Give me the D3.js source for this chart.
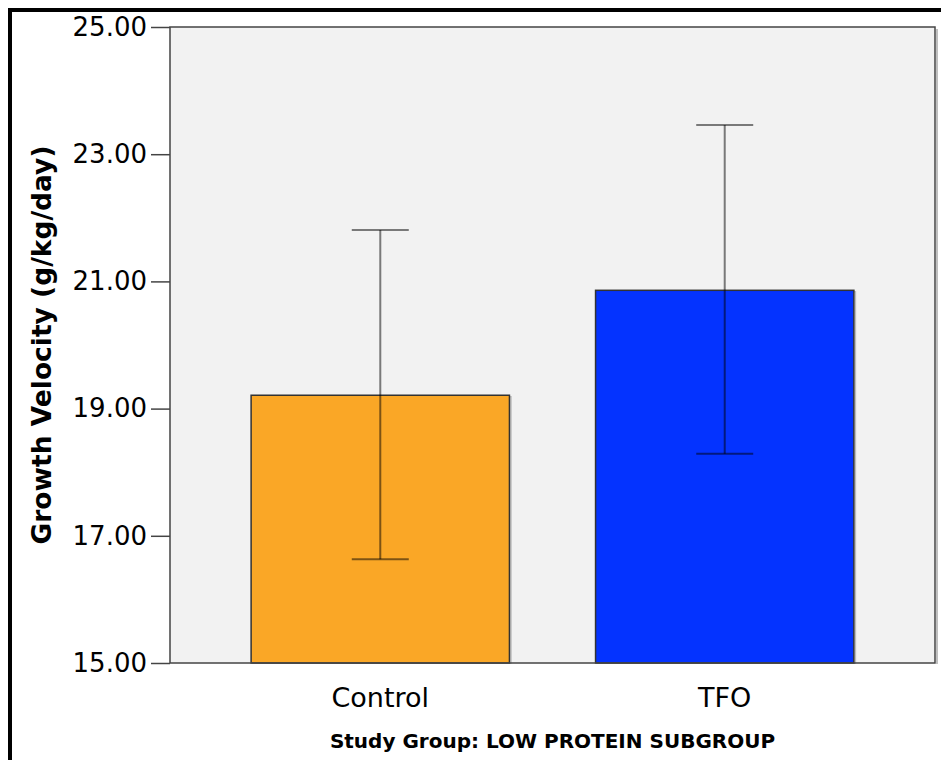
<!DOCTYPE html>
<html>
<head>
<meta charset="utf-8">
<script src="https://cdn.jsdelivr.net/npm/d3@7"></script>
<style>
  html, body { margin: 0; padding: 0; background: #fff; }
  svg { display: block; }
</style>
</head>
<body>
<script>
// Growth velocity by study group (low protein subgroup), mean with error bars
const categories = ["Control", "TFO"];
const means = [19.21, 20.86];
const upper = [21.81, 23.46];
const lower = [16.63, 18.29];
const barColors = ["#FAA726", "#0433FF"];
const yTicks = [15, 17, 19, 21, 23, 25];

const W = 941, H = 760;
const plot = { left: 170, right: 935, top: 27, bottom: 663 };

const svg = d3.select("body").append("svg")
  .attr("width", W).attr("height", H);

// outer frame (top and left edges)
svg.append("line").attr("x1", 8).attr("x2", W).attr("y1", 10).attr("y2", 10)
  .attr("stroke", "#000").attr("stroke-width", 4);
svg.append("line").attr("x1", 10).attr("x2", 10).attr("y1", 8).attr("y2", H)
  .attr("stroke", "#000").attr("stroke-width", 4);

const x = d3.scaleBand()
  .domain(categories)
  .range([plot.left, plot.right])
  .paddingInner(0.25)
  .paddingOuter(0.2355);

const y = d3.scaleLinear()
  .domain([15, 25])
  .range([plot.bottom, plot.top]);

// plot background
svg.append("rect")
  .attr("x", plot.left).attr("y", plot.top)
  .attr("width", plot.right - plot.left).attr("height", plot.bottom - plot.top)
  .attr("fill", "#F2F2F2");

// bars
const bars = svg.append("g");
bars.selectAll("rect.shadow")
  .data(categories)
  .join("rect")
  .attr("class", "shadow")
  .attr("x", d => x(d) + 1.5)
  .attr("y", (d, i) => y(means[i]) + 1.5)
  .attr("width", x.bandwidth())
  .attr("height", (d, i) => y(15) - y(means[i]) - 1.5)
  .attr("fill", "none")
  .attr("stroke", "#bbb")
  .attr("stroke-width", 1.5);
bars.selectAll("rect.bar")
  .data(categories)
  .join("rect")
  .attr("class", "bar")
  .attr("x", d => x(d))
  .attr("y", (d, i) => y(means[i]))
  .attr("width", x.bandwidth())
  .attr("height", (d, i) => y(15) - y(means[i]))
  .attr("fill", (d, i) => barColors[i])
  .attr("stroke", "#333")
  .attr("stroke-width", 1.5);

// error bars
const capW = 57;
const eb = svg.append("g")
  .attr("stroke", "#000")
  .attr("stroke-opacity", 0.5)
  .attr("stroke-width", 2);
categories.forEach((c, i) => {
  const cx = x(c) + x.bandwidth() / 2;
  eb.append("line").attr("x1", cx).attr("x2", cx)
    .attr("y1", y(upper[i])).attr("y2", y(lower[i]));
  eb.append("line").attr("x1", cx - capW / 2).attr("x2", cx + capW / 2)
    .attr("y1", y(upper[i])).attr("y2", y(upper[i]));
  eb.append("line").attr("x1", cx - capW / 2).attr("x2", cx + capW / 2)
    .attr("y1", y(lower[i])).attr("y2", y(lower[i]));
});

// plot border with soft shadow on the right
svg.append("line")
  .attr("x1", plot.right + 2).attr("x2", plot.right + 2)
  .attr("y1", plot.top + 2).attr("y2", plot.bottom + 1)
  .attr("stroke", "#aaa").attr("stroke-width", 1.5);
svg.append("rect")
  .attr("x", plot.left).attr("y", plot.top)
  .attr("width", plot.right - plot.left).attr("height", plot.bottom - plot.top)
  .attr("fill", "none").attr("stroke", "#444").attr("stroke-width", 1.5);

// y axis
const yAxis = svg.append("g")
  .attr("transform", `translate(${plot.left},0)`)
  .call(d3.axisLeft(y).tickValues(yTicks).tickFormat(d3.format(".2f"))
    .tickSize(19).tickPadding(4));
yAxis.select(".domain").remove();
yAxis.selectAll(".tick line").attr("stroke", "#444").attr("stroke-width", 1.5);
yAxis.selectAll(".tick text")
  .attr("fill", "#000")
  .style("font-family", "'DejaVu Sans', sans-serif")
  .style("font-size", "26px");

// x axis labels
const xAxis = svg.append("g")
  .attr("transform", `translate(0,${plot.bottom})`)
  .call(d3.axisBottom(x).tickSize(0).tickPadding(25));
xAxis.select(".domain").remove();
xAxis.selectAll(".tick text")
  .attr("fill", "#000")
  .style("font-family", "'DejaVu Sans', sans-serif")
  .style("font-size", "27px");

// axis titles
svg.append("text")
  .attr("x", (plot.left + plot.right) / 2)
  .attr("y", 748)
  .attr("text-anchor", "middle")
  .style("font-family", "'DejaVu Sans', sans-serif")
  .style("font-weight", "bold")
  .style("font-size", "20px")
  .text("Study Group: LOW PROTEIN SUBGROUP");

svg.append("text")
  .attr("transform", `translate(51,${(plot.top + plot.bottom) / 2}) rotate(-90)`)
  .attr("text-anchor", "middle")
  .style("font-family", "'DejaVu Sans', sans-serif")
  .style("font-weight", "bold")
  .style("font-size", "26.5px")
  .text("Growth Velocity (g/kg/day)");
</script>
</body>
</html>
